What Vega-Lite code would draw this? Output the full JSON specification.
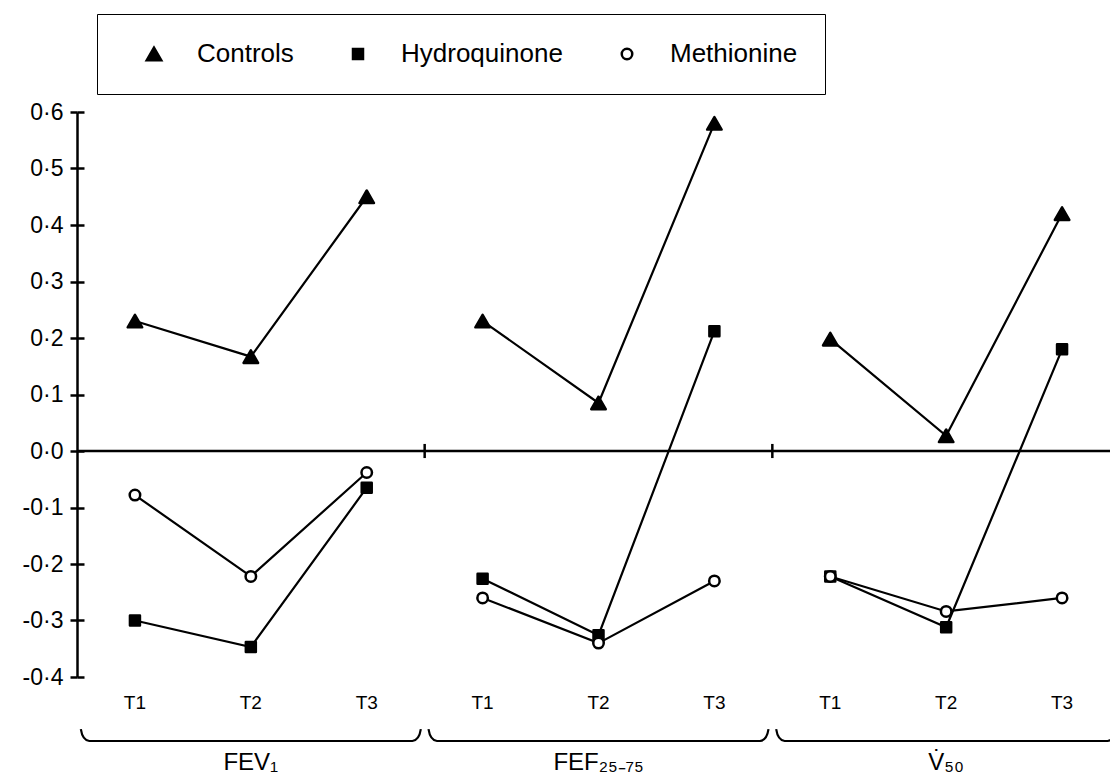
{
  "$schema": "https://vega.github.io/schema/vega-lite/v6.json",
  "width": 1033,
  "height": 565,
  "autosize": {"type": "none"},
  "padding": {"left": 77, "top": 112, "right": 0, "bottom": 107},
  "background": "white",
  "config": {"view": {"stroke": null}, "font": "Liberation Sans"},
  "data": {
    "values": [
      {"series": "Controls", "group": "FEV₁", "time": "T1", "cell": "FEV₁ T1", "value": 0.23},
      {"series": "Controls", "group": "FEV₁", "time": "T2", "cell": "FEV₁ T2", "value": 0.167},
      {"series": "Controls", "group": "FEV₁", "time": "T3", "cell": "FEV₁ T3", "value": 0.45},
      {"series": "Controls", "group": "FEF₂₅₋₇₅", "time": "T1", "cell": "FEF₂₅₋₇₅ T1", "value": 0.23},
      {"series": "Controls", "group": "FEF₂₅₋₇₅", "time": "T2", "cell": "FEF₂₅₋₇₅ T2", "value": 0.085},
      {"series": "Controls", "group": "FEF₂₅₋₇₅", "time": "T3", "cell": "FEF₂₅₋₇₅ T3", "value": 0.58},
      {"series": "Controls", "group": "V̇₅₀", "time": "T1", "cell": "V̇₅₀ T1", "value": 0.198},
      {"series": "Controls", "group": "V̇₅₀", "time": "T2", "cell": "V̇₅₀ T2", "value": 0.027},
      {"series": "Controls", "group": "V̇₅₀", "time": "T3", "cell": "V̇₅₀ T3", "value": 0.42},
      {"series": "Hydroquinone", "group": "FEV₁", "time": "T1", "cell": "FEV₁ T1", "value": -0.30},
      {"series": "Hydroquinone", "group": "FEV₁", "time": "T2", "cell": "FEV₁ T2", "value": -0.347},
      {"series": "Hydroquinone", "group": "FEV₁", "time": "T3", "cell": "FEV₁ T3", "value": -0.065},
      {"series": "Hydroquinone", "group": "FEF₂₅₋₇₅", "time": "T1", "cell": "FEF₂₅₋₇₅ T1", "value": -0.226},
      {"series": "Hydroquinone", "group": "FEF₂₅₋₇₅", "time": "T2", "cell": "FEF₂₅₋₇₅ T2", "value": -0.326},
      {"series": "Hydroquinone", "group": "FEF₂₅₋₇₅", "time": "T3", "cell": "FEF₂₅₋₇₅ T3", "value": 0.212},
      {"series": "Hydroquinone", "group": "V̇₅₀", "time": "T1", "cell": "V̇₅₀ T1", "value": -0.222},
      {"series": "Hydroquinone", "group": "V̇₅₀", "time": "T2", "cell": "V̇₅₀ T2", "value": -0.312},
      {"series": "Hydroquinone", "group": "V̇₅₀", "time": "T3", "cell": "V̇₅₀ T3", "value": 0.18},
      {"series": "Methionine", "group": "FEV₁", "time": "T1", "cell": "FEV₁ T1", "value": -0.078},
      {"series": "Methionine", "group": "FEV₁", "time": "T2", "cell": "FEV₁ T2", "value": -0.222},
      {"series": "Methionine", "group": "FEV₁", "time": "T3", "cell": "FEV₁ T3", "value": -0.038},
      {"series": "Methionine", "group": "FEF₂₅₋₇₅", "time": "T1", "cell": "FEF₂₅₋₇₅ T1", "value": -0.26},
      {"series": "Methionine", "group": "FEF₂₅₋₇₅", "time": "T2", "cell": "FEF₂₅₋₇₅ T2", "value": -0.34},
      {"series": "Methionine", "group": "FEF₂₅₋₇₅", "time": "T3", "cell": "FEF₂₅₋₇₅ T3", "value": -0.23},
      {"series": "Methionine", "group": "V̇₅₀", "time": "T1", "cell": "V̇₅₀ T1", "value": -0.222},
      {"series": "Methionine", "group": "V̇₅₀", "time": "T2", "cell": "V̇₅₀ T2", "value": -0.284},
      {"series": "Methionine", "group": "V̇₅₀", "time": "T3", "cell": "V̇₅₀ T3", "value": -0.26}
    ]
  },
  "layer": [
    {
      "mark": {"type": "line", "color": "black", "strokeWidth": 2.2},
      "encoding": {
        "x": {
          "field": "cell", "type": "nominal",
          "scale": {
            "type": "band",
            "domain": ["FEV₁ T1", "FEV₁ T2", "FEV₁ T3", "FEF₂₅₋₇₅ T1", "FEF₂₅₋₇₅ T2", "FEF₂₅₋₇₅ T3", "V̇₅₀ T1", "V̇₅₀ T2", "V̇₅₀ T3"],
            "range": [0, 1043],
            "paddingInner": 0,
            "paddingOuter": 0
          },
          "axis": {
            "orient": "bottom", "title": null, "domain": false, "ticks": false, "grid": false,
            "labelAngle": 0, "labelExpr": "slice(datum.label, -2)", "labelFontSize": 19,
            "labelColor": "black", "labelPadding": 16, "labelFont": "Liberation Sans"
          }
        },
        "y": {
          "field": "value", "type": "quantitative",
          "scale": {"domain": [-0.4, 0.6], "nice": false, "zero": false},
          "axis": {
            "orient": "left", "title": null, "grid": false,
            "values": [-0.4, -0.3, -0.2, -0.1, 0, 0.1, 0.2, 0.3, 0.4, 0.5, 0.6],
            "labelExpr": "replace(replace(format(datum.value, '.1f'), '.', '·'), '−', '-')",
            "domain": true, "domainColor": "black", "domainWidth": 2.5,
            "ticks": true, "tickColor": "black", "tickWidth": 2.5, "tickSize": 7,
            "labelFontSize": 23, "labelColor": "black", "labelPadding": 7, "labelFont": "Liberation Sans"
          }
        },
        "detail": [{"field": "series", "type": "nominal"}, {"field": "group", "type": "nominal"}]
      }
    },
    {
      "mark": {"type": "point", "filled": true, "stroke": "black", "strokeWidth": 2.5, "strokeJoin": "round", "opacity": 1},
      "encoding": {
        "x": {"field": "cell", "type": "nominal", "axis": null},
        "y": {
          "field": "value", "type": "quantitative",
          "axis": {
            "orient": "left", "title": null, "grid": false, "labels": false, "domain": false,
            "values": [-0.4, -0.3, -0.2, -0.1, 0, 0.1, 0.2, 0.3, 0.4, 0.5, 0.6],
            "ticks": true, "tickColor": "black", "tickWidth": 2.5, "tickSize": -7
          }
        },
        "shape": {
          "field": "series", "type": "nominal",
          "scale": {"domain": ["Controls", "Hydroquinone", "Methionine"], "range": ["triangle-up", "square", "circle"]},
          "legend": {
            "title": " ", "titleOrient": "left", "titlePadding": 17, "titleFontSize": 26,
            "orient": "none", "legendX": 20, "legendY": -98, "direction": "horizontal", "columns": 3,
            "labelFontSize": 26, "labelFont": "Liberation Sans", "labelColor": "black", "labelLimit": 400,
            "labelOffset": 30, "columnPadding": 51, "padding": 27, "strokeColor": "black",
            "symbolStrokeColor": "black", "symbolStrokeWidth": 2.5,
            "encode": {"legend": {"update": {"strokeWidth": {"value": 2.5}}}}
          }
        },
        "fill": {
          "field": "series", "type": "nominal",
          "scale": {"domain": ["Controls", "Hydroquinone", "Methionine"], "range": ["black", "black", "white"]}
        },
        "size": {
          "field": "series", "type": "nominal",
          "scale": {"type": "ordinal", "domain": ["Controls", "Hydroquinone", "Methionine"], "range": [210, 100, 110]}
        }
      }
    },
    {
      "data": {"values": [{}]},
      "mark": {"type": "rule", "color": "black", "strokeWidth": 2.5},
      "encoding": {"y": {"datum": 0, "type": "quantitative", "axis": null}}
    },
    {
      "transform": [{"filter": "datum.time == 'T1' && datum.group != 'FEV₁' && datum.series == 'Controls'"}],
      "mark": {"type": "rule", "color": "black", "strokeWidth": 2.5},
      "encoding": {
        "x": {"field": "cell", "type": "nominal", "bandPosition": 0, "axis": null},
        "y": {"datum": 0.0125, "type": "quantitative", "axis": null},
        "y2": {"datum": -0.0125}
      }
    },
    {
      "transform": [{"filter": "datum.time == 'T2' && datum.series == 'Controls'"}],
      "mark": {
        "type": "point", "filled": false, "stroke": "black", "strokeWidth": 2.2, "opacity": 1,
        "shape": "M -1 -0.07 Q -0.99 -0.005 -0.95 0 L 0.95 0 Q 0.99 -0.005 1 -0.07",
        "size": 115600, "yOffset": 64
      },
      "encoding": {
        "x": {"field": "cell", "type": "nominal", "axis": null},
        "y": {"datum": -0.4, "type": "quantitative", "axis": null}
      }
    },
    {
      "transform": [{"filter": "datum.time == 'T2' && datum.series == 'Controls'"}],
      "mark": {"type": "text", "fontSize": 24, "font": "Liberation Sans", "color": "black", "align": "center", "baseline": "alphabetic", "yOffset": 93},
      "encoding": {
        "x": {"field": "cell", "type": "nominal", "axis": null},
        "y": {"datum": -0.4, "type": "quantitative", "axis": null},
        "text": {"field": "group", "type": "nominal"}
      }
    }
  ],
  "resolve": {"axis": {"x": "independent", "y": "independent"}}
}
